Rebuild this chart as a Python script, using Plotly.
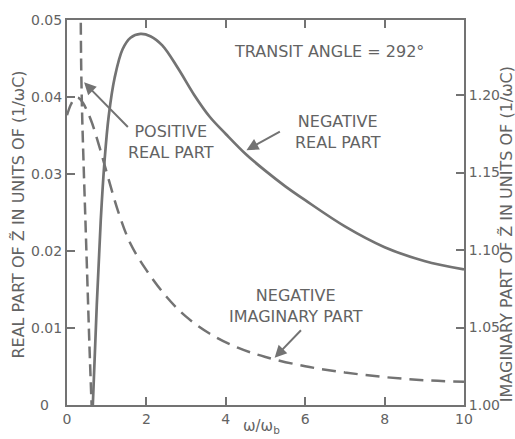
import plotly.graph_objects as go

# Frequency axis (omega / omega_b)
x_pos_real = [0.345, 0.355, 0.38, 0.42, 0.47, 0.52, 0.57, 0.62]
y_pos_real = [0.0520, 0.0450, 0.0380, 0.0310, 0.0230, 0.0150, 0.0070, 0.0]

x_neg_real = [0.65, 0.75, 0.85, 0.95, 1.05, 1.20, 1.40, 1.60, 1.85, 2.10, 2.40, 2.80,
              3.20, 3.60, 4.00, 4.50, 5.00, 5.50, 6.00, 7.00, 8.00, 9.00, 10.0]
y_neg_real = [0.0, 0.0130, 0.0240, 0.0320, 0.0375, 0.0425, 0.0462, 0.0477, 0.0482,
              0.0479, 0.0467, 0.0437, 0.0403, 0.0374, 0.0352, 0.0326, 0.0304,
              0.0284, 0.0266, 0.0232, 0.0205, 0.0187, 0.0176]

x_neg_imag = [0.0, 0.1, 0.2, 0.3, 0.4, 0.6, 0.8, 1.0, 1.3, 1.6, 2.0, 2.5,
              3.0, 3.6, 4.3, 5.0, 6.0, 7.0, 8.0, 9.0, 10.0]
y_neg_imag = [1.187, 1.194, 1.198, 1.198, 1.195, 1.184, 1.168, 1.150, 1.124, 1.104,
              1.087, 1.070, 1.057, 1.046, 1.037, 1.031, 1.025, 1.021, 1.018, 1.016, 1.015]

x_ticks = [0, 2, 4, 6, 8, 10]
x_tick_text = ["0", "2", "4", "6", "8", "10"]
y_ticks = [0, 0.01, 0.02, 0.03, 0.04, 0.05]
y_tick_text = ["0\u00a0\u00a0\u00a0", "0.01", "0.02", "0.03", "0.04", "0.05"]
y2_ticks = [1.00, 1.05, 1.10, 1.15, 1.20]
y2_tick_text = ["1.00", "1.05", "1.10", "1.15", "1.20"]

INK = "#737373"
TXT = "#636363"
FONT = "DejaVu Sans"

fig = go.Figure()

fig.add_trace(go.Scatter(x=x_pos_real, y=y_pos_real, mode="lines",
                         line=dict(color=INK, width=2.5, dash="12px,6px", shape="spline"),
                         hoverinfo="skip", showlegend=False))
fig.add_trace(go.Scatter(x=x_neg_real, y=y_neg_real, mode="lines",
                         line=dict(color=INK, width=2.7, shape="spline"),
                         hoverinfo="skip", showlegend=False))
fig.add_trace(go.Scatter(x=x_neg_imag, y=y_neg_imag, mode="lines", yaxis="y2",
                         line=dict(color=INK, width=2.5, dash="14px,8px", shape="spline"),
                         hoverinfo="skip", showlegend=False))

axis_common = dict(showgrid=False, zeroline=False, showline=True, linecolor=INK,
                   linewidth=2, ticks="inside", ticklen=8, tickwidth=2, tickcolor=INK,
                   tickfont=dict(family=FONT, size=14, color=TXT))

fig.update_layout(
    width=515, height=439,
    margin=dict(l=67, r=51, t=15, b=34),
    paper_bgcolor="white", plot_bgcolor="white",
    xaxis=dict(range=[0, 10], tickvals=x_ticks, ticktext=x_tick_text,
               mirror="ticks", **axis_common),
    yaxis=dict(range=[0, 0.05], tickvals=y_ticks, ticktext=y_tick_text, **axis_common),
    yaxis2=dict(range=[1.0, 1.2484], tickvals=y2_ticks, ticktext=y2_tick_text,
                overlaying="y", side="right", anchor="x", **axis_common),
)

label_font = dict(family=FONT, size=16, color=TXT)

annotations = [
    # axis titles
    dict(text="REAL PART OF Z\u0303 IN UNITS OF (1/\u03c9C)", xref="paper", yref="paper",
         x=-0.123, y=0.495, textangle=-90, showarrow=False, xanchor="center", yanchor="middle",
         font=dict(family=FONT, size=16, color=TXT)),
    dict(text="IMAGINARY PART OF Z\u0303 IN UNITS OF (1/\u03c9C)", xref="paper", yref="paper",
         x=1.106, y=0.444, textangle=-90, showarrow=False, xanchor="center", yanchor="middle",
         font=dict(family=FONT, size=16, color=TXT)),
    dict(text="\u03c9/\u03c9<sub>b</sub>", xref="paper", yref="paper", x=0.491, y=-0.057,
         showarrow=False, xanchor="center", yanchor="middle",
         font=dict(family=FONT, size=15, color=TXT)),
    # curve labels
    dict(text="TRANSIT ANGLE = 292\u00b0", x=6.59, y=0.0459, showarrow=False, font=label_font),
    dict(text="POSITIVE<br>REAL PART", x=2.63, y=0.0342, showarrow=False, font=label_font),
    dict(text="NEGATIVE<br>REAL PART", x=6.82, y=0.0355, showarrow=False, font=label_font),
    dict(text="NEGATIVE<br>IMAGINARY PART", x=5.78, y=0.0128, showarrow=False, font=label_font),
    # pointer arrows
    dict(text="", x=0.43, y=0.0419, ax=1.57, ay=0.0359, axref="x", ayref="y",
         showarrow=True, arrowhead=2, arrowsize=1.2, arrowwidth=2, arrowcolor=INK),
    dict(text="", x=4.52, y=0.0331, ax=5.40, ay=0.0356, axref="x", ayref="y",
         showarrow=True, arrowhead=2, arrowsize=1.2, arrowwidth=2, arrowcolor=INK),
    dict(text="", x=5.23, y=0.00615, ax=5.93, ay=0.0099, axref="x", ayref="y",
         showarrow=True, arrowhead=2, arrowsize=1.2, arrowwidth=2, arrowcolor=INK),
]
fig.update_layout(annotations=annotations)

fig.write_html("out.html")
